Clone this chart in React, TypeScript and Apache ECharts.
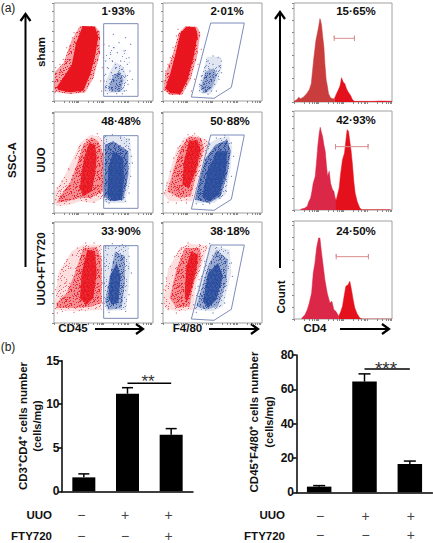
import React, { useEffect, useRef } from "react";
import * as echarts from "echarts";

type P = number[];
const FONT = "Liberation Sans, Arial, sans-serif";
const RED = "232,20,30";
const BLUE = "42,76,156";
const GATE = "#7d8cba";

// speckle texture positions for the estimated cloud outlines
const speckle: P[] = [[3,1],[11,2],[19,0],[27,3],[7,5],[15,6],[23,4],[30,7],[1,8],[10,9],[18,10],[26,9],[5,12],[13,13],[21,12],[29,13],[2,15],[9,16],[17,15],[25,17],[31,16],[6,19],[14,20],[22,18],[28,21],[0,22],[10,23],[18,23],[26,24],[4,25],[13,26],[21,27],[30,26],[7,28],[16,29],[24,30],[1,30],[11,31],[28,29],[19,4],[8,11],[24,14],[15,18],[4,21],[31,11],[20,25],[12,4],[16,2],[29,18],[3,27],[22,9],[9,24],[27,12],[14,10],[6,30],[19,20]];

// ---------- flow plots (axis units: arbitrary channel units) ----------
const logTicks = [0,30,45,55,62,67,71,74,104,119,129,136,141,145,148,178,193,203,210,215,219,222,252,267,277,284,289,293];
const gateCD45 = [[149,232],[252,232],[252,14],[149,14],[149,232]];
const gateF480 = [[143,234],[244,234],[205,41],[153,8],[85,12],[143,234]];

const shamCD45Red: P[][] = [
  [[0,41],[3,88],[28,113],[53,183],[78,225],[123,225],[138,208],[138,143],[118,68],[93,25],[43,21],[3,28]],
  [[8,41],[33,78],[53,108],[66,173],[86,225],[123,223],[133,193],[123,133],[108,78],[88,31],[48,26],[13,33]],
];
const shamCD45Blue: P[][] = [
  [[150,133],[178,173],[223,153],[228,103],[218,28],[150,23]],
  [[150,43],[168,88],[183,118],[208,103],[218,73],[208,28],[168,23],[150,31]],
  [[163,38],[178,78],[198,88],[208,63],[200,28],[173,28]],
];
const shamF480Red: P[][] = [
  [[2,33],[7,83],[27,133],[47,203],[67,225],[102,223],[112,203],[102,133],[82,63],[57,18],[22,18]],
  [[7,38],[22,83],[37,138],[52,203],[70,223],[97,221],[104,198],[92,133],[74,63],[52,21],[22,23]],
];
const shamF480Blue: P[][] = [
  [[110,53],[132,133],[172,133],[177,103],[162,53],[142,20],[107,25]],
  [[112,38],[127,88],[152,98],[162,78],[147,38],[127,23]],
];
const uuoCD45Red: P[][] = [
  [[3,65],[28,105],[53,155],[78,210],[108,233],[133,230],[148,215],[148,45],[118,30],[78,35],[48,25],[8,20],[1,30]],
  [[18,50],[48,90],[68,145],[88,205],[113,227],[133,215],[148,175],[148,65],[108,45],[78,45],[38,35],[8,30]],
  [[78,75],[83,125],[93,175],[106,210],[123,205],[128,165],[123,115],[113,65],[88,50]],
];
const uuoCD45Blue: P[][] = [
  [[150,235],[228,225],[233,165],[228,95],[213,30],[158,30],[150,35]],
  [[153,205],[178,215],[223,185],[223,115],[208,40],[168,35],[150,50]],
  [[160,55],[163,135],[178,185],[208,165],[210,95],[203,40],[178,35]],
];
const uuoF480Red: P[][] = [
  [[3,55],[18,115],[38,185],[63,225],[93,235],[118,225],[138,215],[113,130],[88,35],[53,35],[18,35]],
  [[13,65],[33,135],[53,195],[78,230],[113,225],[123,195],[100,115],[83,50],[48,45]],
  [[58,85],[63,155],[78,215],[103,220],[113,190],[98,125],[78,75]],
];
const uuoF480Blue: P[][] = [
  [[138,210],[168,225],[198,230],[208,195],[203,135],[188,55],[153,30],[98,30],[93,45],[113,125]],
  [[128,165],[158,205],[193,220],[203,185],[193,115],[173,50],[138,30],[96,40],[113,115]],
  [[118,50],[133,125],[163,185],[193,185],[188,125],[168,55],[138,35]],
];
const ftyCD45Red: P[][] = [
  [[3,65],[13,150],[53,215],[88,235],[143,235],[143,40],[68,35],[3,40]],
  [[8,60],[38,90],[63,150],[88,225],[128,228],[143,190],[143,60],[108,48],[58,45],[8,45]],
  [[78,75],[83,150],[100,220],[123,215],[128,150],[118,75],[98,55]],
];
const ftyCD45Blue: P[][] = [
  [[150,235],[223,232],[228,160],[216,40],[158,35],[150,60]],
  [[163,120],[183,215],[213,200],[213,120],[203,45],[163,40],[153,65]],
  [[163,75],[168,140],[188,180],[200,140],[193,60],[173,55]],
];
const ftyF480Red: P[][] = [
  [[2,75],[15,160],[50,225],[80,238],[135,232],[100,120],[90,40],[40,35],[5,45]],
  [[20,75],[40,160],[65,225],[110,225],[115,190],[90,110],[80,50],[40,45]],
  [[65,90],[70,170],[85,215],[105,205],[100,160],[82,90],[70,60]],
];
const ftyF480Blue: P[][] = [
  [[140,235],[200,220],[205,150],[180,50],[150,35],[95,40],[95,70],[120,160]],
  [[135,170],[160,220],[195,190],[190,120],[165,50],[130,40],[100,50],[120,120]],
  [[120,65],[135,150],[165,180],[180,140],[160,70],[135,45]],
];

const shamCD45RedDots: P[] = [[5,100],[12,60],[20,85],[30,70],[8,40],[18,110],[35,100],[28,125],[42,125],[45,150],[50,165],[55,190],[60,205],[38,160],[65,175],[25,45],[3,25],[145,100],[140,60],[148,130],[150,170],[143,30]];
const shamCD45BlueDots: P[] = [[165,165],[180,160],[170,140],[190,145],[210,150],[225,130],[155,120],[175,120],[200,120],[220,110],[160,100],[185,100],[205,95],[228,90],[155,80],[172,85],[195,80],[215,75],[235,65],[150,60],[168,65],[180,60],[200,60],[222,50],[155,40],[175,35],[195,30],[212,30],[160,22],[188,22],[205,22],[178,200],[215,190],[195,175],[230,170]];
const shamF480RedDots: P[] = [[3,60],[8,90],[15,110],[22,130],[30,160],[40,195],[45,215],[110,195],[115,155],[105,110],[95,65],[85,30],[12,30]];
const shamF480BlueDots: P[] = [[150,135],[165,130],[175,120],[135,120],[150,110],[168,105],[125,100],[140,95],[160,90],[175,85],[115,75],[130,70],[150,72],[168,65],[110,50],[125,40],[155,50],[145,30],[120,25],[135,20],[172,100],[160,30]];
const uuoCD45RedDots: P[] = [[10,75],[25,95],[40,70],[55,100],[70,130],[85,170],[45,130],[65,165],[90,200],[75,195],[100,220],[130,238],[145,150],[140,60],[30,50],[5,40],[95,40],[120,32],[148,90],[60,40],[20,65],[110,45]];
const uuoCD45BlueDots: P[] = [[155,230],[175,235],[200,228],[225,220],[150,190],[228,190],[160,205],[235,150],[230,110],[155,60],[225,60],[155,40],[215,35],[165,30],[232,170],[150,130]];
const uuoF480RedDots: P[] = [[5,60],[12,90],[22,125],[32,165],[45,195],[60,215],[75,235],[95,238],[125,220],[130,180],[110,100],[95,50],[40,30],[15,32],[70,30]];
const uuoF480BlueDots: P[] = [[160,225],[185,232],[205,210],[212,170],[205,110],[190,65],[170,45],[100,28],[120,26],[140,28],[112,100],[125,160],[140,205]];
const ftyCD45RedDots: P[] = [[5,100],[12,130],[25,160],[40,190],[55,205],[70,225],[95,240],[120,240],[140,200],[145,120],[145,60],[60,32],[25,35],[10,30],[35,120],[50,165],[30,75],[60,95]];
const ftyCD45BlueDots: P[] = [[155,225],[175,238],[205,235],[225,200],[232,150],[225,85],[215,35],[165,32],[150,120],[150,170],[160,205]];
const ftyF480RedDots: P[] = [[3,100],[10,135],[22,170],[35,200],[55,225],[75,240],[110,235],[130,225],[108,130],[95,45],[40,30],[15,40],[30,110],[45,165]];
const ftyF480BlueDots: P[] = [[140,238],[175,228],[205,180],[208,140],[185,60],[150,30],[100,32],[92,55],[105,110],[125,185],[195,210]];

// ---------- CD4 histograms ----------
const hist1Low: P[] = [[0,2],[10,8],[14,14],[20,10],[28,14],[38,25],[46,37],[52,55],[56,95],[60,135],[63,160],[66,185],[70,205],[74,225],[78,250],[80,245],[83,230],[86,200],[90,165],[93,115],[97,65],[100,50],[104,25],[110,13],[118,9],[123,13]];
const hist1High: P[] = [[123,13],[128,25],[132,33],[138,47],[141,60],[143,73],[145,68],[148,60],[153,55],[158,40],[163,30],[170,20],[176,7],[182,2],[240,2],[260,3],[295,2]];
const hist2Low: P[] = [[20,2],[33,6],[40,11],[44,24],[50,36],[54,56],[58,81],[64,101],[68,146],[72,196],[76,231],[79,248],[83,231],[86,221],[90,196],[94,176],[98,131],[101,101],[106,116],[110,81],[116,61],[120,56],[124,36],[128,26]];
const hist2High: P[] = [[126,26],[130,41],[136,66],[140,106],[146,151],[152,171],[156,206],[160,241],[164,236],[168,206],[172,176],[176,136],[180,86],[184,51],[190,26],[198,6],[204,1],[290,1]];
const hist3Low: P[] = [[23,2],[33,13],[40,28],[46,48],[53,78],[58,138],[63,168],[68,213],[74,243],[78,243],[83,198],[88,158],[93,118],[100,78],[108,48],[114,53],[120,28],[126,23],[135,8]];
const hist3High: P[] = [[135,8],[141,23],[146,38],[150,63],[156,98],[163,103],[168,113],[173,88],[178,58],[183,33],[190,16],[198,3],[206,0],[295,0]];
const hist1Gate: P[] = [[121,183],[121,199],[121,191],[182,191],[182,199],[182,183]];
const hist2Gate: P[] = [[125,182],[125,198],[125,190],[223,190],[223,198],[223,182]];
const hist3Gate: P[] = [[127,179],[127,195],[127,187],[224,187],[224,195],[224,179]];

const percents = ["1·93%","2·01%","48·48%","50·88%","33·90%","38·18%"];
const histPercents = ["15·65%","42·93%","24·50%"];

// ---------- bar charts ----------
const uuoRow = ["−","+","+"];
const ftyRow = ["−","−","+"];
const cd4Means = [1.6,11.2,6.5];
const cd4Upper = [2.0,11.9,7.2];
const cd4Sig = 12.4;
const f480Means = [3.3,64.5,16.5];
const f480Upper = [3.9,69,18.2];
const f480Sig = 71.8;

// texture densities per cloud layer: [tile size, background alpha, dot alpha]
const VSPARSE = [32, 0.02, 0.6];
const SPARSE = [20, 0.14, 0.6];
const MID = [14, 0.4, 0.85];
const DENSE = [10, 0.62, 1];
const CORE = [8, 0.82, 1];
const SOLID = [4, 0.97, 1];

const flowPanels = [
  { l:54, t:3, h:98, gate:gateCD45, red:shamCD45Red, blue:shamCD45Blue, rd:shamCD45RedDots, bd:shamCD45BlueDots, rl:[MID,SOLID], bl:[VSPARSE,SPARSE,MID] },
  { l:163, t:3, h:98, gate:gateF480, red:shamF480Red, blue:shamF480Blue, rd:shamF480RedDots, bd:shamF480BlueDots, rl:[MID,SOLID], bl:[SPARSE,MID] },
  { l:54, t:112, h:101, gate:gateCD45, red:uuoCD45Red, blue:uuoCD45Blue, rd:uuoCD45RedDots, bd:uuoCD45BlueDots, rl:[SPARSE,MID,CORE], bl:[SPARSE,DENSE,CORE] },
  { l:163, t:112, h:101, gate:gateF480, red:uuoF480Red, blue:uuoF480Blue, rd:uuoF480RedDots, bd:uuoF480BlueDots, rl:[SPARSE,MID,CORE], bl:[SPARSE,DENSE,CORE] },
  { l:54, t:222, h:101, gate:gateCD45, red:ftyCD45Red, blue:ftyCD45Blue, rd:ftyCD45RedDots, bd:ftyCD45BlueDots, rl:[SPARSE,MID,CORE], bl:[SPARSE,MID,CORE] },
  { l:163, t:222, h:101, gate:gateF480, red:ftyF480Red, blue:ftyF480Blue, rd:ftyF480RedDots, bd:ftyF480BlueDots, rl:[SPARSE,MID,CORE], bl:[SPARSE,MID,CORE] },
];
const histPanels = [
  { t:3, h:99, low:hist1Low, high:hist1High, gate:hist1Gate, lowColor:"#c93d3d" },
  { t:111, h:99, low:hist2Low, high:hist2High, gate:hist2Gate, lowColor:"#db2748" },
  { t:221, h:98, low:hist3Low, high:hist3High, gate:hist3Gate, lowColor:"#db2748" },
];

function tile(rgb: string, spec: number[]) {
  const [size, base, dot] = spec;
  const c = document.createElement("canvas");
  c.width = size;
  c.height = size;
  const g = c.getContext("2d")!;
  g.fillStyle = `rgba(${rgb},${base})`;
  g.fillRect(0, 0, size, size);
  g.fillStyle = `rgba(${rgb},${dot})`;
  const scale = size / 32;
  speckle.forEach(([x, y], k) => {
    if (size === 32 && k % 2) return;
    if (size === 20 && k % 4 > 1) return;
    if (size === 14 && k % 3 === 0) return;
    if (size < 14 && k % 2) return;
    g.fillRect(Math.floor(x * scale), Math.floor(y * scale), 1, 1);
  });
  return { image: c, repeat: "repeat", imageWidth: size, imageHeight: size };
}

function polySeries(poly: P[], fill: any, idx: number) {
  return {
    type: "custom", xAxisIndex: idx, yAxisIndex: idx, silent: true, clip: true,
    data: [poly[0]], encode: { x: 0, y: 1 },
    renderItem: (_p: any, api: any) => ({
      type: "polygon",
      shape: { points: poly.map((q) => api.coord(q)) },
      style: { fill },
    }),
  };
}

function t(text: string, x: number, y: number, o: any = {}) {
  const { rotate, ...st } = o;
  return {
    type: "text", x, y, rotation: rotate || 0, silent: true,
    style: { text, fill: "#111", fontFamily: FONT, fontSize: 11.5, fontWeight: "bold", align: "center", verticalAlign: "middle", ...st },
  };
}
function arrow(x1: number, y1: number, x2: number, y2: number) {
  const dx = Math.sign(x2 - x1), dy = Math.sign(y2 - y1);
  const s = { stroke: "#000", lineWidth: 2, fill: "none" };
  return [
    { type: "line", silent: true, shape: { x1, y1, x2: x2 - dx, y2: y2 - dy }, style: s },
    { type: "polyline", silent: true, shape: { points: [[x2 - dx * 7 + dy * 5, y2 - dy * 7 + dx * 5], [x2, y2], [x2 - dx * 7 - dy * 5, y2 - dy * 7 - dx * 5]] }, style: { ...s, lineWidth: 2.2 } },
  ];
}

function buildOption() {
  const grid: any[] = [], xAxis: any[] = [], yAxis: any[] = [], series: any[] = [];
  const tickLine = { show: true, length: 2, inside: false, lineStyle: { color: "#888", width: 1 } };

  flowPanels.forEach((p, i) => {
    grid.push({ left: p.l, top: p.t, width: 99, height: p.h, show: true, borderColor: "#a0a0a0", borderWidth: 1, backgroundColor: "#fff", outerBoundsMode: "none" });
    xAxis.push({ gridIndex: i, type: "value", min: 0, max: 297, axisLabel: { show: false }, splitLine: { show: false }, axisLine: { show: false }, axisTick: { ...tickLine, customValues: logTicks } });
    yAxis.push({ gridIndex: i, type: "value", min: 0, max: p.h * 3, interval: 30, axisLabel: { show: false }, splitLine: { show: false }, axisLine: { show: false }, axisTick: tickLine });
    p.red.forEach((poly, k) => series.push(polySeries(poly, tile(RED, p.rl[k]), i)));
    series.push({ type: "scatter", xAxisIndex: i, yAxisIndex: i, data: p.rd, symbolSize: 1.2, itemStyle: { color: `rgb(${RED})`, opacity: 0.7 }, silent: true });
    p.blue.forEach((poly, k) => series.push(polySeries(poly, tile(BLUE, p.bl[k]), i)));
    series.push({ type: "scatter", xAxisIndex: i, yAxisIndex: i, data: p.bd, symbolSize: 1.2, itemStyle: { color: `rgb(${BLUE})`, opacity: 0.75 }, silent: true });
    series.push({ type: "line", xAxisIndex: i, yAxisIndex: i, data: p.gate, showSymbol: false, silent: true, lineStyle: { color: GATE, width: 1 } });
  });

  histPanels.forEach((p, j) => {
    const i = 6 + j;
    grid.push({ left: 294, top: p.t, width: 98, height: p.h, show: true, borderColor: "#a0a0a0", borderWidth: 1, backgroundColor: "#fff", outerBoundsMode: "none" });
    xAxis.push({ gridIndex: i, type: "value", min: 0, max: 295, axisLabel: { show: false }, splitLine: { show: false }, axisLine: { show: false }, axisTick: { ...tickLine, customValues: logTicks } });
    yAxis.push({ gridIndex: i, type: "value", min: 0, max: p.h * 3, interval: 35, axisLabel: { show: false }, splitLine: { show: false }, axisLine: { show: false }, axisTick: tickLine });
    series.push({ type: "line", xAxisIndex: i, yAxisIndex: i, data: p.low, showSymbol: false, silent: true, lineStyle: { color: p.lowColor, width: 0.5 }, areaStyle: { color: p.lowColor, opacity: 1 } });
    series.push({ type: "line", xAxisIndex: i, yAxisIndex: i, data: p.high, showSymbol: false, silent: true, lineStyle: { color: "#e4101c", width: 0.5 }, areaStyle: { color: "#e4101c", opacity: 1 } });
    series.push({ type: "line", xAxisIndex: i, yAxisIndex: i, data: p.gate, showSymbol: false, silent: true, lineStyle: { color: "#d98d8d", width: 1 }, z: 5 });
  });

  const bars = [
    { l: 62, w: 131, t: 360.7, h: 130.6, max: 15, step: 5, bw: 23, means: cd4Means, up: cd4Upper, sig: cd4Sig, cap: 5.5, pad: [0, 5, 0, 0], m2: 38 },
    { l: 296.5, w: 136, t: 355, h: 137.3, max: 80, step: 20, bw: 24.5, means: f480Means, up: f480Upper, sig: f480Sig, cap: 6, pad: [0, 0, 0, 2], m2: 36.5 },
  ];
  bars.forEach((b, j) => {
    const i = 9 + j;
    grid.push({ left: b.l, top: b.t, width: b.w, height: b.h, outerBoundsMode: "none" });
    xAxis.push({
      gridIndex: i, type: "category", position: "bottom", data: uuoRow,
      axisTick: { show: false }, axisLine: { lineStyle: { color: "#000", width: 1.5 } },
      axisLabel: { margin: 16, fontSize: 14, lineHeight: 15, color: "#444", fontFamily: FONT, padding: b.pad },
    });
    yAxis.push({
      gridIndex: i, type: "value", min: 0, max: b.max, interval: b.step, splitLine: { show: false },
      axisLine: { show: true, lineStyle: { color: "#000", width: 1.5 } },
      axisTick: { show: true, length: 4, lineStyle: { color: "#000", width: 1.5 } },
      axisLabel: { margin: 2.5, color: "#111", fontSize: 12, fontWeight: "bold", fontFamily: FONT },
    });
    const cap = b.cap;
    series.push({
      type: "custom", xAxisIndex: i, yAxisIndex: i, silent: true, z: 1,
      data: b.up.map((u, k) => [k, u, b.means[k]]), encode: { x: 0, y: 1 },
      renderItem: (_p: any, api: any) => {
        const top = api.coord([api.value(0), api.value(1)]);
        const base = api.coord([api.value(0), api.value(2)]);
        const style = { stroke: "#000", lineWidth: 1.5, fill: "none" };
        return {
          type: "group",
          children: [
            { type: "line", shape: { x1: top[0], y1: top[1], x2: base[0], y2: base[1] }, style },
            { type: "line", shape: { x1: top[0] - cap, y1: top[1], x2: top[0] + cap, y2: top[1] }, style },
          ],
        };
      },
    });
    series.push({ type: "bar", xAxisIndex: i, yAxisIndex: i, data: b.means, barWidth: b.bw, silent: true, itemStyle: { color: "#000" }, z: 2 });
    series.push({ type: "line", xAxisIndex: i, yAxisIndex: i, data: [[1, b.sig], [2, b.sig]], showSymbol: false, silent: true, lineStyle: { color: "#000", width: 1.5 } });
  });
  // second row of +/− signs, on its own axis below the bars
  bars.forEach((b, j) => {
    xAxis.push({
      gridIndex: 9 + j, type: "category", position: "bottom", data: ftyRow,
      axisTick: { show: false }, axisLine: { show: false },
      axisLabel: { margin: b.m2, fontSize: 14, lineHeight: 13, color: "#444", fontFamily: FONT, padding: b.pad },
    });
  });

  const pctPos = [[118,11],[227,11],[121,121],[230,121],[121,231],[230,231]];
  const hPos = [[356,11],[356,120],[356,231]];
  const R = Math.PI / 2;
  const light = { fontWeight: "normal", fontSize: 12, fill: "#222" };
  const ax = { rotate: R, fontSize: 11.5 };
  const ax2 = { rotate: R, fontSize: 11 };
  const row = { align: "right", fontSize: 11.5 };
  const graphic: any[] = [
    t("(a)", 8, 8, light),
    t("(b)", 8, 347, light),
    ...percents.map((s, k) => t(s, pctPos[k][0], pctPos[k][1])),
    ...histPercents.map((s, k) => t(s, hPos[k][0], hPos[k][1])),
    t("SSC-A", 12, 160, { rotate: R }),
    t("sham", 41, 52, { rotate: R }),
    t("UUO", 41, 160, { rotate: R }),
    t("UUO+FTY720", 41, 269, { rotate: R }),
    t("Count", 281, 297, { rotate: R }),
    t("CD45", 73, 328),
    t("F4/80", 187.5, 328),
    t("CD4", 315, 328),
    ...arrow(25.5, 267, 25.5, 14),
    ...arrow(280, 268, 280, 12),
    ...arrow(95, 329, 143, 329),
    ...arrow(209, 329, 258, 329),
    ...arrow(340, 329, 389, 329),
    t("CD3⁺CD4⁺ cells number", 23, 426, ax),
    t("(cells/mg)", 37, 426, ax2),
    t("CD45⁺F4/80⁺ cells number", 254, 422, ax),
    t("(cells/mg)", 269, 422, ax2),
    t("**", 148, 381, { fontSize: 17, fontWeight: "normal", fill: "#333" }),
    t("***", 386, 368, { fontSize: 19, fontWeight: "normal", fill: "#333" }),
    t("UUO", 52, 515, row),
    t("FTY720", 52, 536, row),
    t("UUO", 285, 515, row),
    t("FTY720", 285, 536, row),
  ];

  return { animation: false, backgroundColor: "#fff", grid, xAxis, yAxis, series, graphic };
}

export default function App() {
  const ref = useRef<HTMLDivElement>(null);
  useEffect(() => {
    document.body.style.margin = "0";
    const chart = echarts.init(ref.current!, null, { renderer: "svg" });
    chart.setOption(buildOption() as any);
    return () => chart.dispose();
  }, []);
  return <div ref={ref} style={{ width: 433, height: 543 }} />;
}
